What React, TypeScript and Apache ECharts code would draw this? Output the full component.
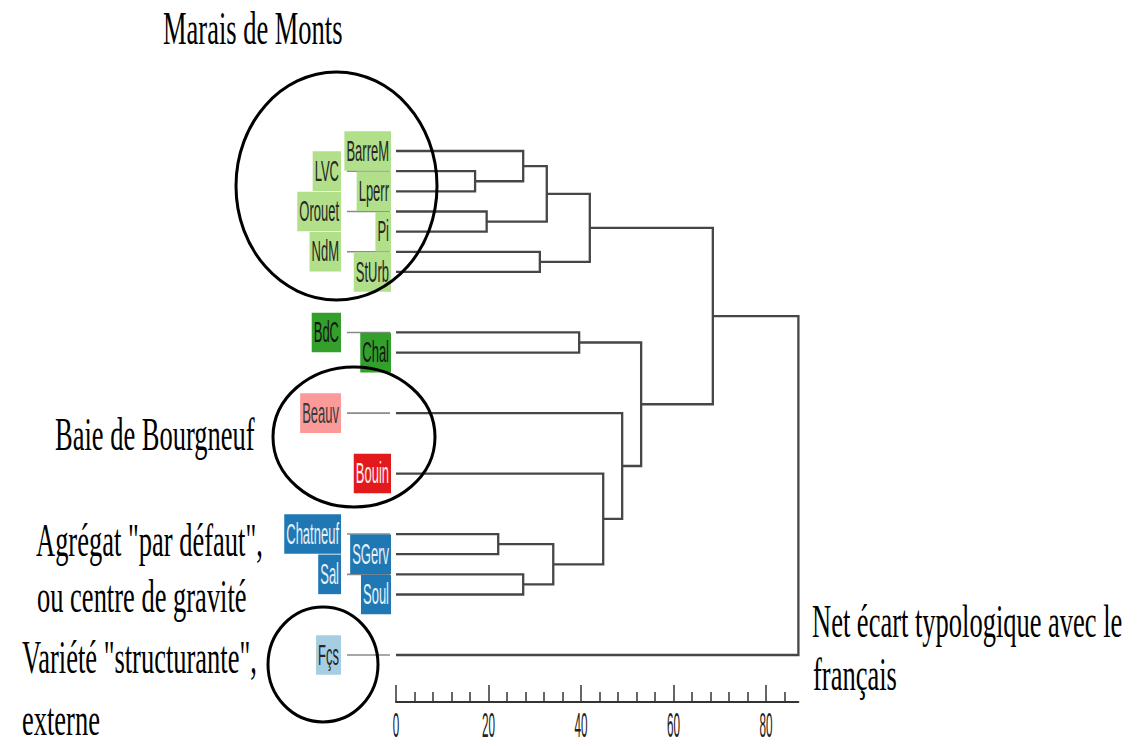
import React, { useEffect, useRef } from "react";
import * as echarts from "echarts";

// ---- data ----
const leafNames = ["BarreM", "LVC", "Lperr", "Orouet", "Pi", "NdM", "StUrb", "BdC", "Chal", "Beauv", "Bouin", "Chatneuf", "SGerv", "Sal", "Soul", "Fçs"];
const leafSlots = [0, 1, 2, 3, 4, 5, 6, 9, 10, 13, 16, 19, 20, 21, 22, 25];
const leafGroups = ["mm", "mm", "mm", "mm", "mm", "mm", "mm", "bdc", "bdc", "beauv", "bouin", "ctr", "ctr", "ctr", "ctr", "fr"];
// merges: negative = leaf -(index+1), positive = merge number (1-based)
const mergeLeft = [-2, -4, -12, -1, -14, -6, 4, 3, -8, 7, -11, -10, 9, 10, 14];
const mergeRight = [-3, -5, -13, 1, -15, -7, 2, 5, -9, 6, 8, 11, 12, 13, -16];
const mergeHeights = [17.1, 19.6, 22.1, 27.5, 27.5, 31.1, 32.6, 34.0, 39.6, 41.9, 44.8, 48.9, 53.0, 68.5, 87.0];
const tickValues = [0, 20, 40, 60, 80];
const tickLabels = ["0", "20", "40", "60", "80"];

const groupFill: Record<string, string> = {
  mm: "#b2df8a",
  bdc: "#33a02c",
  beauv: "#fb9a99",
  bouin: "#e31a1c",
  ctr: "#1f78b4",
  fr: "#a6cee3",
};
const groupText: Record<string, string> = {
  mm: "#262626",
  bdc: "#141414",
  beauv: "#3a3a3a",
  bouin: "#ffecec",
  ctr: "#e8f0f8",
  fr: "#262626",
};

function buildSegments() {
  const mergeP: number[] = [];
  const node = (ref: number) =>
    ref < 0 ? { h: 0, p: leafSlots[-ref - 1] } : { h: mergeHeights[ref - 1], p: mergeP[ref - 1] };
  const segs: number[][] = [];
  for (let k = 0; k < mergeHeights.length; k++) {
    const a = node(mergeLeft[k]);
    const b = node(mergeRight[k]);
    mergeP.push((a.p + b.p) / 2);
    segs.push([a.h, a.p, b.h, b.p, mergeHeights[k]]);
  }
  return segs;
}

const serif = "Liberation Serif";

export default function App() {
  const ref = useRef<HTMLDivElement>(null);
  useEffect(() => {
    if (!ref.current) return;
    const chart = echarts.init(ref.current, null, { renderer: "svg" });
    const segs = buildSegments();
    chart.setOption({
      animation: false,
      backgroundColor: "#ffffff",
      grid: { left: 396, top: 151, width: 402.4, height: 504, outerBoundsMode: "none" },
      xAxis: {
        type: "value",
        min: 0,
        max: 87,
        interval: 20,
        position: "bottom",
        offset: 47,
        axisLine: { show: true, onZero: false, lineStyle: { color: "#333", width: 2 } },
        axisTick: { show: true, inside: true, length: 17, customValues: tickValues, lineStyle: { color: "#333", width: 1.5 } },
        minorTick: { show: true, splitNumber: 5, length: 10, lineStyle: { color: "#333", width: 1.5 } },
        axisLabel: { show: false },
        splitLine: { show: false },
        minorSplitLine: { show: false },
      },
      yAxis: { type: "value", min: 0, max: 25, inverse: true, show: false },
      series: [
        {
          type: "custom",
          name: "tree",
          silent: true,
          data: segs,
          renderItem: (params: any, api: any) => {
            const H = api.value(4);
            const a = api.coord([api.value(0), api.value(1)]);
            const aH = api.coord([H, api.value(1)]);
            const bH = api.coord([H, api.value(3)]);
            const b = api.coord([api.value(2), api.value(3)]);
            return {
              type: "polyline",
              shape: { points: [a, aH, bH, b] },
              style: { stroke: "#464646", lineWidth: 2.3, fill: null },
            };
          },
        },
        {
          type: "custom",
          name: "connectors",
          silent: true,
          data: leafNames.map((n, i) => [0, leafSlots[i], i]),
          renderItem: (params: any, api: any) => {
            const i = api.value(2);
            if (i % 2 !== 1) return null;
            const pt = api.coord([0, api.value(1)]);
            return {
              type: "line",
              shape: { x1: pt[0] - 49, y1: pt[1], x2: pt[0] - 6, y2: pt[1] },
              style: { stroke: "#8a8a8a", lineWidth: 1.6 },
            };
          },
        },
      ],
    });

    // texts placed through the chart's own scales
    const px = (v: number[]) => chart.convertToPixel({ gridIndex: 0 }, v) as number[];
    const rightLabels: any[] = [];
    const leftLabels: any[] = [];
    leafNames.forEach((name, i) => {
      const pt = px([0, leafSlots[i]]);
      const isLeft = i % 2 === 1;
      const g = leafGroups[i];
      const el = {
        type: "text",
        x: pt[0] - (isLeft ? 55 : 5),
        y: pt[1],
        scaleY: 2.2,
        z: isLeft ? 5 : 6,
        silent: true,
        style: {
          text: name,
          fill: groupText[g],
          fontSize: 13,
          fontFamily: "Liberation Sans",
          align: "right",
          verticalAlign: "middle",
          lineHeight: 13,
          backgroundColor: groupFill[g],
          padding: [1, 2, 4, 2],
        },
      };
      (isLeft ? leftLabels : rightLabels).push(el);
    });
    const tickTexts = tickValues.map((v, i) => {
      const pt = px([v, 25]);
      return {
        type: "text",
        x: pt[0],
        y: pt[1] + 69.5,
        scaleY: 3,
        silent: true,
        style: {
          text: tickLabels[i],
          fill: "#222",
          fontSize: 11.7,
          fontFamily: "Liberation Sans",
          align: "center",
          verticalAlign: "middle",
        },
      };
    });
    const notes = [
      { text: "Marais de Monts", x: 163, y: 27.5 },
      { text: "Baie de Bourgneuf", x: 55, y: 434 },
      { text: 'Agrégat "par défaut",', x: 36, y: 540 },
      { text: "ou centre de gravité", x: 37, y: 596 },
      { text: 'Variété "structurante",', x: 22, y: 657 },
      { text: "externe", x: 22, y: 719 },
      { text: "Net écart typologique avec le", x: 812, y: 621 },
      { text: "français", x: 813, y: 674 },
    ];
    const ellipses = [
      { cx: 336.5, cy: 186, rx: 100.5, ry: 114 },
      { cx: 354, cy: 437, rx: 81, ry: 70 },
      { cx: 323, cy: 664.5, rx: 55, ry: 57.5 },
    ];
    chart.setOption({
      graphic: [
        ...leftLabels,
        ...rightLabels,
        ...tickTexts,
        ...notes.map((n) => ({
          type: "text",
          x: n.x,
          y: n.y,
          scaleY: 1.77,
          z: 20,
          silent: true,
          style: {
            text: n.text,
            fill: "#000",
            fontSize: 26.5,
            fontFamily: serif,
            align: "left",
            verticalAlign: "middle",
          },
        })),
        ...ellipses.map((e) => ({
          type: "ellipse",
          z: 30,
          silent: true,
          shape: e,
          style: { fill: null, stroke: "#000", lineWidth: 3 },
        })),
      ],
    });
    return () => chart.dispose();
  }, []);
  return (
    <div
      ref={ref}
      style={{ position: "absolute", left: 0, top: 0, width: 1145, height: 746, background: "#fff" }}
    />
  );
}
